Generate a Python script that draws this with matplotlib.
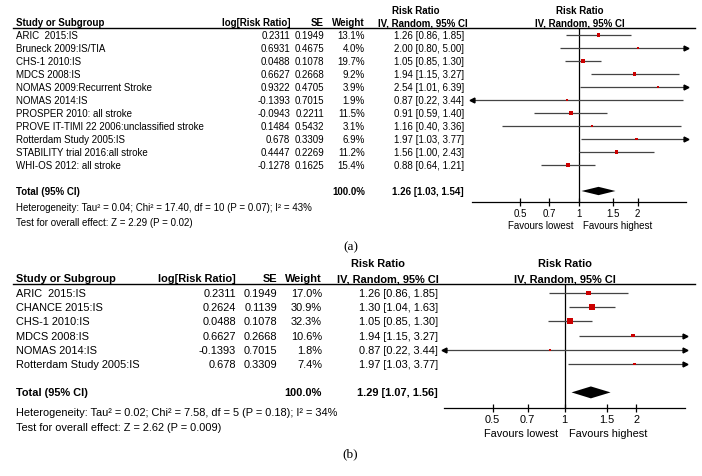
import matplotlib.pyplot as plt
import matplotlib.transforms as mtransforms
import numpy as np

plt.rcParams['font.family'] = ['Liberation Sans', 'DejaVu Sans']

W, H = 702, 476

# ---- panel (a) data
studies_a = ["ARIC  2015:IS", "Bruneck 2009:IS/TIA", "CHS-1 2010:IS", "MDCS 2008:IS",
             "NOMAS 2009:Recurrent Stroke", "NOMAS 2014:IS", "PROSPER 2010: all stroke",
             "PROVE IT-TIMI 22 2006:unclassified stroke", "Rotterdam Study 2005:IS",
             "STABILITY trial 2016:all stroke", "WHI-OS 2012: all stroke"]
log_rr_a = [0.2311, 0.6931, 0.0488, 0.6627, 0.9322, -0.1393, -0.0943, 0.1484, 0.678, 0.4447, -0.1278]
se_a = [0.1949, 0.4675, 0.1078, 0.2668, 0.4705, 0.7015, 0.2211, 0.5432, 0.3309, 0.2269, 0.1625]
weight_a = [13.1, 4.0, 19.7, 9.2, 3.9, 1.9, 11.5, 3.1, 6.9, 11.2, 15.4]
rr_a = [1.26, 2.00, 1.05, 1.94, 2.54, 0.87, 0.91, 1.16, 1.97, 1.56, 0.88]
lo_a = [0.86, 0.80, 0.85, 1.15, 1.01, 0.22, 0.59, 0.40, 1.03, 1.00, 0.64]
hi_a = [1.85, 5.00, 1.30, 3.27, 6.39, 3.44, 1.40, 3.36, 3.77, 2.43, 1.21]
total_a = [1.26, 1.03, 1.54]
total_w_a = 100.0
het_a = "Heterogeneity: Tau\u00b2 = 0.04; Chi\u00b2 = 17.40, df = 10 (P = 0.07); I\u00b2 = 43%"
test_a = "Test for overall effect: Z = 2.29 (P = 0.02)"

# ---- panel (b) data
studies_b = ["ARIC  2015:IS", "CHANCE 2015:IS", "CHS-1 2010:IS", "MDCS 2008:IS",
             "NOMAS 2014:IS", "Rotterdam Study 2005:IS"]
log_rr_b = [0.2311, 0.2624, 0.0488, 0.6627, -0.1393, 0.678]
se_b = [0.1949, 0.1139, 0.1078, 0.2668, 0.7015, 0.3309]
weight_b = [17.0, 30.9, 32.3, 10.6, 1.8, 7.4]
rr_b = [1.26, 1.30, 1.05, 1.94, 0.87, 1.97]
lo_b = [0.86, 1.04, 0.85, 1.15, 0.22, 1.03]
hi_b = [1.85, 1.63, 1.30, 3.27, 3.44, 3.77]
total_b = [1.29, 1.07, 1.56]
total_w_b = 100.0
het_b = "Heterogeneity: Tau\u00b2 = 0.02; Chi\u00b2 = 7.58, df = 5 (P = 0.18); I\u00b2 = 34%"
test_b = "Test for overall effect: Z = 2.62 (P = 0.009)"

ticks = [0.5, 0.7, 1, 1.5, 2]
tick_labels = ["0.5", "0.7", "1", "1.5", "2"]

fig = plt.figure(figsize=(W / 100, H / 100), dpi=100)


def panel(studies, log_rr, se, weight, rr, lo, hi, total, total_w, het, test, lay):
    n = len(studies)
    y0, sp = lay['row0'], lay['sp']
    row = lambda px: (px - y0) / sp
    x0, x1 = lay['ax_x']
    top, bot = lay['ax_y']
    ax = fig.add_axes([x0 / W, 1 - bot / H, (x1 - x0) / W, (bot - top) / H])
    ax.set_xscale('log')
    lim = lay['lim']
    ax.set_xlim(1 / lim, lim)
    ax.set_ylim(row(bot), row(top))
    for s in ['top', 'left', 'right']:
        ax.spines[s].set_visible(False)
    ax.spines['bottom'].set_linewidth(0.9)
    ax.set_yticks([])
    ax.set_xticks(ticks)
    ax.set_xticklabels(tick_labels)
    ax.minorticks_off()
    ax.tick_params(axis='x', direction='inout', length=6, width=0.9,
                   labelsize=lay['fs'], pad=2)
    ax.axvline(1, color='black', lw=0.9)
    ax.axhline(row(top), xmin=(13 - x0) / (x1 - x0), xmax=(695 - x0) / (x1 - x0),
               color='black', lw=1.0, clip_on=False)

    rows = np.arange(n)
    col = '#444444'
    for i in range(n):
        a = max(lo[i], 1 / lim)
        b = min(hi[i], lim)
        ax.plot([a, b], [i, i], color=col, lw=0.9, solid_capstyle='butt')
        if hi[i] > lim:
            ax.plot(lim, i, marker='>', ms=3.5, color='black', clip_on=False)
        if lo[i] < 1 / lim:
            ax.plot(1 / lim, i, marker='<', ms=3.5, color='black', clip_on=False)
    sides = np.maximum(2.0, lay['k'] * np.sqrt(weight)) * 0.72
    ax.scatter(rr, rows, marker='s', s=sides ** 2, color='#cc0000', lw=0, zorder=3)

    tr = n + 1
    e, l, h = total
    dh = lay['dh']
    ax.fill([l, e, h, e], [tr, tr - dh, tr, tr + dh], color='black', lw=0)

    t = mtransforms.blended_transform_factory(fig.transFigure, ax.transData)
    fs = lay['fs']
    c = lay['cols']
    hb = row(lay['head2'])
    hr = row(lay['head1'])
    kw = dict(transform=t, fontsize=fs, fontweight='bold', va='baseline')
    ax.text(16 / W, hb, "Study or Subgroup", ha='left', **kw)
    ax.text(c['log'] / W, hb, "log[Risk Ratio]", ha='right', **kw)
    ax.text(c['se'] / W, hb, "SE", ha='right', **kw)
    ax.text(c['w'] / W, hb, "Weight", ha='right', **kw)
    ax.text(c['ivh'] / W, hb, "IV, Random, 95% CI", ha='center', **kw)
    ax.text(c['rrh'] / W, hr, "Risk Ratio", ha='center', **kw)
    ax.text(c['plot'] / W, hb, "IV, Random, 95% CI", ha='center', **kw)
    ax.text(c['plot'] / W, hr, "Risk Ratio", ha='center', **kw)

    kw = dict(transform=t, fontsize=fs, va='center_baseline')
    for i in range(n):
        ax.text(16 / W, i, studies[i], ha='left', **kw)
        ax.text(c['log'] / W, i, str(log_rr[i]), ha='right', **kw)
        ax.text(c['se'] / W, i, "%.4f" % se[i], ha='right', **kw)
        ax.text(c['w'] / W, i, "%.1f%%" % weight[i], ha='right', **kw)
        ax.text(c['ci'] / W, i, "%.2f [%.2f, %.2f]" % (rr[i], lo[i], hi[i]), ha='right', **kw)
    ax.text(16 / W, tr, "Total (95% CI)", ha='left', fontweight='bold', **kw)
    ax.text(c['w'] / W, tr, "%.1f%%" % total_w, ha='right', fontweight='bold', **kw)
    ax.text(c['ci'] / W, tr, "%.2f [%.2f, %.2f]" % (e, l, h), ha='right', fontweight='bold', **kw)
    ax.text(16 / W, row(lay['het']), het, ha='left', **kw)
    ax.text(16 / W, row(lay['test']), test, ha='left', **kw)

    fav = row(lay['fav'])
    ax.text(c['favl'] / W, fav, "Favours lowest", ha='right', **kw)
    ax.text(c['favh'] / W, fav, "Favours highest", ha='left', **kw)

    ax.text(lay['cap'][0] / W, row(lay['cap'][1]), lay['label'], transform=t,
            ha='center', va='center', fontsize=9.5, family='Liberation Serif')
    return ax


lay_a = dict(row0=35, sp=13.0, ax_x=(472, 686), ax_y=(27.5, 202), lim=3.55, fs=7.0, k=1.0,
             dh=0.32, head1=14, head2=26.5, het=207, test=222, fav=225,
             cols=dict(log=290, se=324, w=365, ci=464, ivh=423, rrh=416, plot=580,
                       favl=573, favh=583),
             cap=(351, 247), label='(a)')
lay_b = dict(row0=293, sp=14.2, ax_x=(444, 685), ax_y=(284, 407.7), lim=3.2, fs=7.9, k=1.05,
             dh=0.42, head1=267, head2=282.5, het=412, test=427, fav=433,
             cols=dict(log=236, se=277, w=322, ci=438, ivh=388, rrh=378, plot=565,
                       favl=558, favh=569),
             cap=(350, 454), label='(b)')

panel(studies_a, log_rr_a, se_a, weight_a, rr_a, lo_a, hi_a, total_a, total_w_a, het_a, test_a, lay_a)
panel(studies_b, log_rr_b, se_b, weight_b, rr_b, lo_b, hi_b, total_b, total_w_b, het_b, test_b, lay_b)

fig.savefig('out.png', dpi=100)
